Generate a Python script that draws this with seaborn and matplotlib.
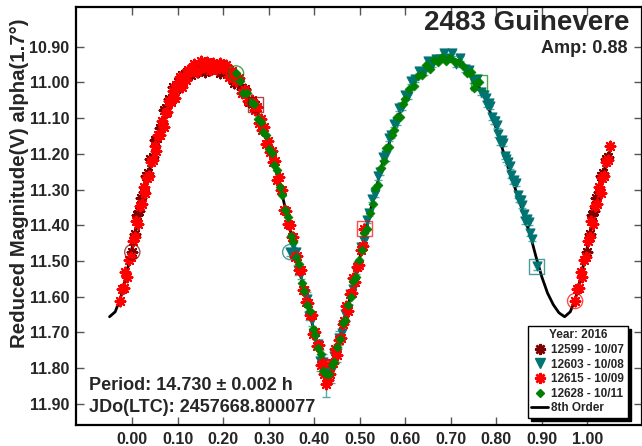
import numpy as np
import pandas as pd
import matplotlib
matplotlib.use("Agg")
import matplotlib.pyplot as plt
from matplotlib.lines import Line2D
from matplotlib.font_manager import FontProperties
import seaborn as sns

# ---- Fourier fit (8th order) sampled along phase ----
fit_phase = [-0.05, -0.0375, -0.025, -0.0125, 0.0, 0.025, 0.05, 0.075, 0.10, 0.125, 0.15, 0.175,
             0.20, 0.225, 0.25, 0.275, 0.30, 0.325, 0.35, 0.375, 0.40, 0.4125,
             0.425, 0.4375, 0.45, 0.475, 0.50, 0.525, 0.55, 0.575, 0.60, 0.625,
             0.65, 0.675, 0.70, 0.725, 0.75, 0.775, 0.80, 0.825, 0.85, 0.875, 0.8875,
             0.90, 0.9125, 0.925, 0.9375, 0.95, 0.9625, 0.975, 0.9875, 1.00, 1.025, 1.05]
fit_mag = [11.656, 11.642, 11.600, 11.535, 11.460, 11.310, 11.190, 11.080, 11.010, 10.970, 10.953, 10.948,
           10.958, 10.985, 11.030, 11.090, 11.175, 11.290, 11.430, 11.570, 11.700, 11.765,
           11.820, 11.800, 11.745, 11.620, 11.490, 11.350, 11.225, 11.130, 11.045, 10.985,
           10.952, 10.933, 10.930, 10.946, 10.985, 11.045, 11.130, 11.235, 11.330, 11.430, 11.490,
           11.545, 11.590, 11.622, 11.645, 11.656, 11.642, 11.600, 11.535, 11.460, 11.310, 11.190]

# ---- Session 12599 (2016-10-07) ----
s12599_phase = [0.000, 0.005, 0.010, 0.015, 0.020, 0.025, 0.030, 0.035, 0.040, 0.045,
                0.050, 0.055, 0.060, 0.065, 0.070, 0.075, 0.080, 0.085, 0.090, 0.095,
                0.100, 0.105, 0.110, 0.115, 0.120, 0.128, 0.136, 0.144, 0.152, 0.160,
                0.168, 0.176, 0.184, 0.192, 0.200, 0.208, 0.216, 0.224, 0.232, 0.240,
                0.248, 0.256, 0.263, 0.270]
s12599_mag = [11.475, 11.425, 11.371, 11.359, 11.323, 11.307, 11.261, 11.253, 11.215, 11.209,
              11.161, 11.157, 11.129, 11.121, 11.077, 11.071, 11.046, 11.050, 11.014, 11.018,
              11.000, 11.008, 10.979, 10.988, 10.970, 10.978, 10.956, 10.970, 10.959, 10.971,
              10.948, 10.962, 10.952, 10.973, 10.952, 10.977, 10.979, 11.001, 10.992, 11.018,
              11.018, 11.054, 11.053, 11.062]

# ---- Session 12603 (2016-10-08) ----
s12603_phase = [0.347, 0.353, 0.359, 0.365, 0.371, 0.377, 0.383, 0.389, 0.395, 0.401,
                0.407, 0.413, 0.419, 0.425, 0.431, 0.437, 0.443, 0.449, 0.455, 0.461,
                0.467, 0.473, 0.479, 0.485, 0.491, 0.497, 0.503, 0.509, 0.515, 0.521,
                0.527, 0.533, 0.539, 0.545, 0.551, 0.557, 0.563, 0.569, 0.575, 0.581,
                0.587, 0.593, 0.599, 0.605,
                0.613, 0.622, 0.631, 0.640, 0.649, 0.658, 0.667, 0.676, 0.685, 0.694,
                0.703, 0.712, 0.721, 0.730, 0.739, 0.748, 0.757, 0.766,
                0.773, 0.7765, 0.780, 0.7835, 0.787, 0.7905, 0.794, 0.7975, 0.801, 0.8045,
                0.808, 0.8115, 0.815, 0.8185, 0.822, 0.8255, 0.829, 0.8325, 0.836, 0.8395,
                0.843, 0.8465, 0.850, 0.8535, 0.857, 0.8605, 0.864, 0.8675, 0.871, 0.8745,
                0.878, 0.889]
s12603_mag = [11.475, 11.455, 11.476, 11.526, 11.536, 11.583, 11.606, 11.653, 11.664, 11.713,
              11.732, 11.779, 11.782, 11.830, 11.804, 11.811, 11.766, 11.757, 11.716, 11.702,
              11.648, 11.633, 11.593, 11.578, 11.527, 11.514, 11.461, 11.444, 11.386, 11.367,
              11.326, 11.312, 11.262, 11.250, 11.209, 11.202, 11.156, 11.148, 11.116, 11.112,
              11.071, 11.069, 11.036, 11.039,
              10.996, 10.990, 10.967, 10.971, 10.939, 10.950, 10.935, 10.935, 10.919, 10.933,
              10.918, 10.948, 10.933, 10.962, 10.964, 10.994, 10.990, 11.026,
              11.034, 11.044, 11.062, 11.058, 11.066, 11.096, 11.108, 11.108, 11.120, 11.145,
              11.166, 11.160, 11.171, 11.207, 11.215, 11.223, 11.234, 11.260, 11.277, 11.274,
              11.283, 11.315, 11.328, 11.330, 11.344, 11.368, 11.388, 11.382, 11.392, 11.422,
              11.437, 11.515]
s12603_err = [0.010, 0.008, 0.010, 0.012, 0.015, 0.010, 0.020, 0.012, 0.018, 0.025,
              0.012, 0.030, 0.022, 0.050, 0.028, 0.030, 0.015, 0.025, 0.020, 0.012,
              0.010, 0.010, 0.008, 0.008, 0.008, 0.010, 0.008, 0.008, 0.008, 0.008,
              0.008, 0.008, 0.010, 0.008, 0.008, 0.018, 0.008, 0.008, 0.008, 0.008,
              0.008, 0.008, 0.008, 0.008,
              0.008, 0.008, 0.008, 0.008, 0.008, 0.008, 0.008, 0.008, 0.008, 0.008,
              0.008, 0.008, 0.008, 0.008, 0.008, 0.008, 0.008, 0.008,
              0.008, 0.008, 0.008, 0.008, 0.008, 0.008, 0.008, 0.008, 0.008, 0.008,
              0.008, 0.008, 0.008, 0.008, 0.008, 0.008, 0.008, 0.008, 0.008, 0.008,
              0.008, 0.008, 0.008, 0.008, 0.008, 0.008, 0.008, 0.008, 0.008, 0.008,
              0.008, 0.010]

# ---- Session 12615 (2016-10-09) ----
s12615_phase = [0.973, 0.977, 0.981, 0.985, 0.989, 0.993, 0.997, 0.001, 0.005, 0.009,
                0.013, 0.017, 0.021, 0.025, 0.029, 0.033, 0.037, 0.041, 0.045, 0.049,
                0.053, 0.057, 0.061, 0.065, 0.069, 0.073, 0.077, 0.081, 0.085, 0.089,
                0.093, 0.097, 0.101, 0.105, 0.109, 0.113, 0.117,
                0.122, 0.129, 0.136, 0.143, 0.150, 0.157, 0.164, 0.171, 0.178, 0.185,
                0.192, 0.199, 0.206, 0.213, 0.220, 0.227, 0.234, 0.241, 0.248, 0.255,
                0.262, 0.269,
                0.274, 0.278, 0.282, 0.286, 0.290, 0.294, 0.298, 0.302, 0.306, 0.310,
                0.314, 0.318, 0.322, 0.326, 0.330, 0.334, 0.338, 0.342, 0.346, 0.350,
                0.354, 0.358, 0.362, 0.366, 0.370, 0.374, 0.378, 0.382, 0.386, 0.390,
                0.394, 0.398, 0.402, 0.406, 0.410, 0.414, 0.418, 0.422, 0.426, 0.430,
                0.434, 0.438, 0.442, 0.446, 0.450, 0.454, 0.458, 0.462, 0.466, 0.470,
                0.474, 0.478, 0.482, 0.486, 0.490, 0.494, 0.498, 0.502, 0.506, 0.510]
s12615_mag = [11.612, 11.578, 11.575, 11.532, 11.544, 11.498, 11.488, 11.444, 11.432, 11.388,
              11.396, 11.346, 11.340, 11.294, 11.309, 11.268, 11.262, 11.223, 11.216, 11.177,
              11.191, 11.147, 11.148, 11.108, 11.124, 11.085, 11.084, 11.053, 11.054, 11.023,
              11.044, 11.006, 11.014, 10.986, 11.014, 10.985, 10.993,
              10.965, 10.969, 10.948, 10.972, 10.941, 10.958, 10.942, 10.965, 10.945, 10.962,
              10.945, 10.960, 10.950, 10.986, 10.968, 10.995, 10.987, 11.030, 11.022, 11.052,
              11.049, 11.078,
              11.069, 11.114, 11.102, 11.133, 11.125, 11.173, 11.164, 11.194, 11.193, 11.223,
              11.221, 11.272, 11.264, 11.302, 11.302, 11.358, 11.359, 11.395, 11.398, 11.432,
              11.434, 11.489, 11.485, 11.526, 11.526, 11.582, 11.582, 11.616, 11.617, 11.650,
              11.651, 11.704, 11.698, 11.737, 11.736, 11.790, 11.785, 11.817, 11.845, 11.832,
              11.816, 11.785, 11.786, 11.747, 11.763, 11.721, 11.715, 11.675, 11.667, 11.627,
              11.639, 11.592, 11.590, 11.547, 11.560, 11.517, 11.510, 11.469, 11.459, 11.410]

# ---- Session 12628 (2016-10-11) ----
s12628_phase = [0.228, 0.236, 0.244, 0.252, 0.260, 0.268, 0.276, 0.282, 0.288, 0.294,
                0.300, 0.306, 0.312, 0.318, 0.324, 0.330, 0.336, 0.342, 0.348, 0.354,
                0.360, 0.366, 0.372, 0.378, 0.384, 0.390, 0.396, 0.402, 0.408, 0.414,
                0.420, 0.426, 0.432, 0.438, 0.444, 0.450, 0.456, 0.462, 0.468, 0.474,
                0.480, 0.486, 0.492, 0.498, 0.504, 0.510, 0.516, 0.522, 0.528, 0.534,
                0.540, 0.546, 0.552, 0.558, 0.564, 0.570, 0.576, 0.582, 0.588, 0.594,
                0.600, 0.609, 0.618, 0.627, 0.636, 0.645, 0.654, 0.663, 0.672, 0.681,
                0.690, 0.699, 0.708, 0.717, 0.726, 0.735, 0.744, 0.750, 0.756, 0.762]
s12628_mag = [10.975, 10.997, 11.031, 11.031, 11.056, 11.061, 11.102, 11.112, 11.140, 11.147,
              11.187, 11.199, 11.232, 11.246, 11.294, 11.316, 11.358, 11.377, 11.431, 11.448,
              11.488, 11.508, 11.562, 11.584, 11.623, 11.640, 11.691, 11.706, 11.744, 11.760,
              11.807, 11.816, 11.815, 11.790, 11.783, 11.741, 11.717, 11.673, 11.664, 11.623,
              11.600, 11.555, 11.544, 11.496, 11.470, 11.422, 11.409, 11.365, 11.341, 11.297,
              11.287, 11.241, 11.219, 11.183, 11.181, 11.147, 11.133, 11.098, 11.098, 11.061,
              11.047, 11.019, 11.011, 10.981, 10.978, 10.951, 10.962, 10.938, 10.943, 10.930,
              10.940, 10.932, 10.943, 10.943, 10.954, 10.974, 10.972, 11.015, 11.001, 11.000]

legend_labels = ["12599 - 10/07", "12603 - 10/08", "12615 - 10/09", "12628 - 10/11", "8th Order"]
x_ticks = [0.0, 0.1, 0.2, 0.3, 0.4, 0.5, 0.6, 0.7, 0.8, 0.9, 1.0]
y_ticks = [10.9, 11.0, 11.1, 11.2, 11.3, 11.4, 11.5, 11.6, 11.7, 11.8, 11.9]

sns.set_style("ticks")
plt.rcParams["font.family"] = ["Liberation Sans", "DejaVu Sans"]
plt.rcParams["font.weight"] = "bold"

ASTER = (8, 2, 0)
C_12599, C_12603, C_12615, C_12628 = "#800000", "#007373", "#ff0000", "#008000"
sessions = [
    dict(phase=s12599_phase, mag=s12599_mag, color=C_12599, marker=ASTER, size=48, filled=False, z=5),
    dict(phase=s12603_phase, mag=s12603_mag, color=C_12603, marker="v", size=44, filled=True, z=4),
    dict(phase=s12615_phase, mag=s12615_mag, color=C_12615, marker=ASTER, size=48, filled=False, z=6),
    dict(phase=s12628_phase, mag=s12628_mag, color=C_12628, marker="D", size=20, filled=True, z=7),
]


def wrapped(phase, mag):
    """Repeat points near the phase boundaries so the plot spans -0.05 .. 1.05."""
    p = np.asarray(phase, float)
    m = np.asarray(mag, float)
    lo = p > 0.95
    hi = p < 0.05
    return (np.concatenate([p, p[lo] - 1.0, p[hi] + 1.0]),
            np.concatenate([m, m[lo], m[hi]]))


fig = plt.figure(figsize=(6.42, 4.46), dpi=100)
ax = fig.add_axes([76 / 642, 21 / 446, 566 / 642, 418 / 446])

# fitted curve underneath the observations
fit_df = pd.DataFrame({"phase": fit_phase, "mag": fit_mag})
sns.lineplot(data=fit_df, x="phase", y="mag", sort=False, estimator=None,
             color="black", linewidth=2.0, ax=ax, zorder=2)

# error bars of the 10/08 session
ax.errorbar(s12603_phase, s12603_mag, yerr=s12603_err, fmt="none",
            ecolor="#5aa9a9", elinewidth=1.0, capsize=3, capthick=1.0, zorder=3)

for s in sessions:
    px, pm = wrapped(s["phase"], s["mag"])
    df = pd.DataFrame({"phase": px, "mag": pm})
    kw = dict(data=df, x="phase", y="mag", marker=s["marker"], s=s["size"],
              color=s["color"], ax=ax, zorder=s["z"], legend=False)
    if s["filled"]:
        kw.update(edgecolor=s["color"], linewidth=0.6)
    else:
        kw.update(linewidth=1.6)
    sns.scatterplot(**kw)
    # first observation: open circle, last observation: open square
    ax.scatter([s["phase"][0]], [s["mag"][0]], s=120, marker="o", facecolors="none",
               edgecolors=s["color"], linewidths=1.0, alpha=0.7, zorder=9)
    ax.scatter([s["phase"][-1]], [s["mag"][-1]], s=120, marker="s", facecolors="none",
               edgecolors=s["color"], linewidths=1.0, alpha=0.7, zorder=9)

ax.set_xlim(-0.1237, 1.120)
ax.set_ylim(11.959, 10.789)
ax.set_xticks(x_ticks)
ax.set_yticks(y_ticks)
ax.set_xticklabels([f"{v:.2f}" for v in x_ticks])
ax.set_yticklabels([f"{v:.2f}" for v in y_ticks])
ax.set_xlabel("")
ax.set_ylabel("Reduced Magnitude(V) alpha(1.7°)", fontsize=14.7, fontweight="bold")
ax.yaxis.set_label_coords(-0.083, 0.579)
ax.tick_params(axis="both", which="major", direction="in", length=6, width=1,
               color="#555555", labelsize=11.5, top=True, right=True, pad=5)
for lab in ax.get_xticklabels() + ax.get_yticklabels():
    lab.set_fontweight("bold")
for sp in ax.spines.values():
    sp.set_visible(True)
    sp.set_color("black")
    sp.set_linewidth(1.6)

ax.text(0.981, 0.948, "2483 Guinevere", transform=fig.transFigure, ha="right", va="center",
        fontsize=20, fontweight="bold")
ax.text(0.978, 0.892, "Amp: 0.88", transform=fig.transFigure, ha="right", va="center",
        fontsize=13, fontweight="bold")
ax.text(89 / 642, 1 - 385 / 446, "Period: 14.730 ± 0.002 h", transform=fig.transFigure,
        ha="left", va="center", fontsize=13, fontweight="bold")
ax.text(89 / 642, 1 - 407 / 446, "JDo(LTC): 2457668.800077", transform=fig.transFigure,
        ha="left", va="center", fontsize=13, fontweight="bold")

handles = [
    Line2D([], [], ls="none", marker=ASTER, ms=8, mew=1.8, color=C_12599),
    Line2D([], [], ls="none", marker="v", ms=7, color=C_12603),
    Line2D([], [], ls="none", marker=ASTER, ms=8, mew=1.8, color=C_12615),
    Line2D([], [], ls="none", marker="D", ms=4.5, color=C_12628),
    Line2D([], [], color="black", lw=2.0),
]
fp = FontProperties(family=["Liberation Sans", "DejaVu Sans"], weight="bold", size=8.5)
leg = ax.legend(handles, legend_labels, title="Year: 2016", loc="lower right",
                bbox_to_anchor=(0.975, 0.017), prop=fp, title_fontproperties=fp,
                frameon=True, fancybox=False, framealpha=1, edgecolor="black",
                shadow={"color": "black", "alpha": 1.0}, borderpad=0.3,
                labelspacing=0.22, handlelength=1.4, handletextpad=0.3,
                borderaxespad=0, markerscale=1.0)
leg.get_frame().set_linewidth(1.0)
leg.set_zorder(20)

fig.savefig("out.png", dpi=100, facecolor="white")
